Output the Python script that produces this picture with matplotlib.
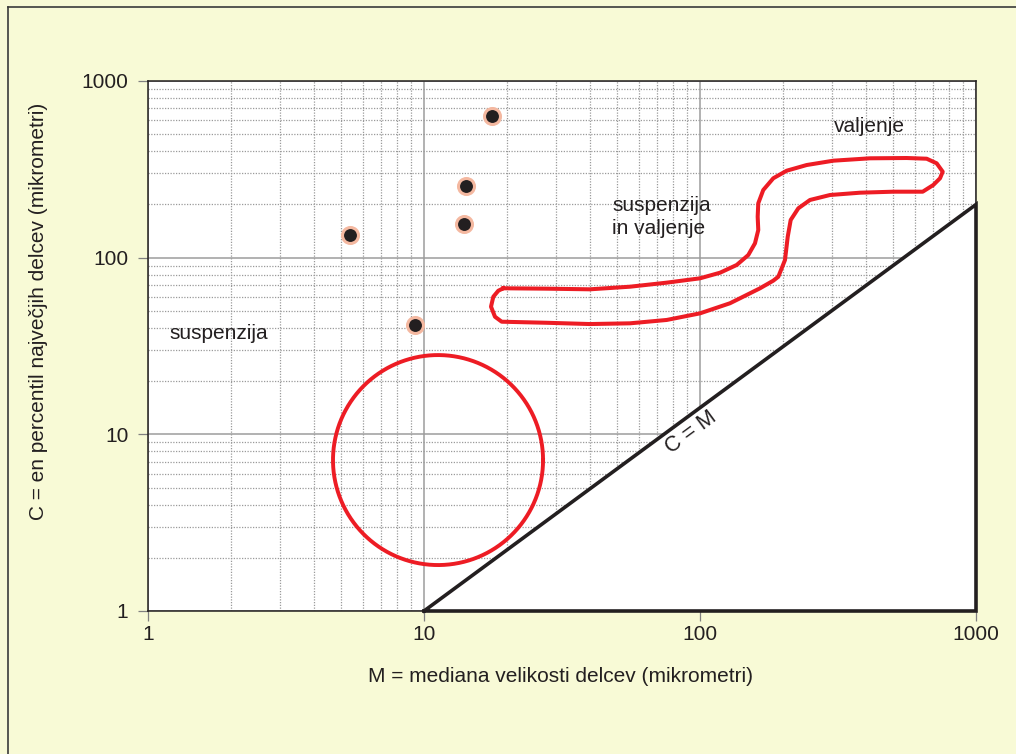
import numpy as np
import matplotlib
matplotlib.use('Agg')
import matplotlib.pyplot as plt
from matplotlib.patches import Polygon
from matplotlib.lines import Line2D

plt.rcParams['font.family'] = ['Liberation Sans', 'DejaVu Sans']

# ---- data ----
ticks = [1, 10, 100, 1000]
tick_labels = ["1", "10", "100", "1000"]

# sample points (M, C) in micrometres
points_M = [17.6, 14.2, 14.0, 5.4, 9.3]
points_C = [634, 254, 155, 134, 41.6]

# C = M limiting triangle (M, C)
tri_M = [10, 1000, 1000]
tri_C = [1, 1, 200]

# circular field (extents in M and C)
circle_M = [4.68, 27.0]
circle_C = [1.82, 28.1]

# "suspenzija in valjenje" field outline (M, C)
blob_M = [19.38, 27.84, 39.94, 55.78, 75.74, 100, 118.2, 135.8, 149.6, 158.2, 162.6, 161.8,
          162.6, 169.5, 184.3, 206.1, 243.5, 304.1, 412.9, 561.0, 662.7, 720.3, 757.5, 740.7,
          700.2, 641.1, 501.6, 379.9, 295.8, 250.3, 227.1, 213.1, 207.9, 203.2, 192.2, 184.3,
          165.0, 139.6, 128.4, 100, 75.74, 55.78, 39.94, 27.84, 19.12, 18.08, 17.49, 17.83, 18.59]
blob_C = [67.1, 66.75, 66.2, 68.5, 72.2, 76.4, 82.2, 90.9, 103.5, 120.6, 143.4, 170.6,
          203.1, 241.5, 281.4, 310.6, 334.5, 353.9, 365.1, 366.5, 363.2, 342.0, 306.6, 281.4,
          257.8, 236.3, 236.3, 233.2, 226.3, 212.1, 190.3, 163.4, 131.4, 97.0, 78.0, 74.1,
          67.1, 58.9, 55.2, 48.4, 44.4, 42.5, 42.1, 42.8, 43.4, 46.3, 52.8, 60.1, 65.0]

# ---- figure ----
W, H = 1016, 754
bg = '#F8FAD6'
ink = '#231F20'
red = '#ED1C24'
fig = plt.figure(figsize=(W / 100, H / 100), dpi=100, facecolor=bg)

# outer frame lines (left and top)
fig.add_artist(Line2D([8 / W, 8 / W], [0, 1 - 7 / H], transform=fig.transFigure, color='#3a3a3a', lw=1.2))
fig.add_artist(Line2D([8 / W, 1], [1 - 7 / H, 1 - 7 / H], transform=fig.transFigure, color='#3a3a3a', lw=1.2))

ax = fig.add_axes([148 / W, 1 - 611 / H, (976 - 148) / W, (611 - 81) / H])
ax.set_facecolor('white')
ax.set_xscale('log')
ax.set_yscale('log')
ax.set_xlim(1, 1000)
ax.set_ylim(1, 1000)

ax.set_axisbelow(True)
ax.grid(which='major', color='#9C9C9C', lw=1.1, ls='-')
ax.grid(which='minor', color='#9A9A9A', lw=0.9, ls=(0, (1, 1.2)))

ax.set_xticks(ticks)
ax.set_xticklabels(tick_labels)
ax.set_yticks(ticks)
ax.set_yticklabels(tick_labels)
ax.tick_params(which='major', length=7.2, width=0.9, color='#808080', labelsize=15,
               labelcolor=ink)
ax.tick_params(axis='y', pad=7)
ax.tick_params(axis='x', pad=3)
ax.tick_params(which='minor', length=0)
ax.xaxis.set_minor_formatter(plt.NullFormatter())
ax.yaxis.set_minor_formatter(plt.NullFormatter())
for s in ax.spines.values():
    s.set_color(ink)
    s.set_linewidth(1.1)

# white triangle below C = M
tri = Polygon(list(zip(tri_M, tri_C)), closed=True, facecolor='white', edgecolor='none', zorder=1.5)
ax.add_patch(tri)
ax.plot(tri_M + [tri_M[0]], tri_C + [tri_C[0]], color=ink, lw=2.6, zorder=3,
        clip_on=False, solid_joinstyle='miter')

# circle field (drawn as ellipse in log space)
t = np.linspace(0, 2 * np.pi, 400)
lcx, lrx = np.mean(np.log10(circle_M)), np.diff(np.log10(circle_M))[0] / 2
lcy, lry = np.mean(np.log10(circle_C)), np.diff(np.log10(circle_C))[0] / 2
ax.plot(10 ** (lcx + lrx * np.cos(t)), 10 ** (lcy + lry * np.sin(t)), color=red, lw=2.8, zorder=4)

# blob field
ax.plot(blob_M + [blob_M[0]], blob_C + [blob_C[0]], color=red, lw=2.9, zorder=4,
        solid_joinstyle='round')

# points
ax.plot(points_M, points_C, 'o', ms=11.5, mfc=ink, mec='#F4B8A0', mew=2.2, zorder=5)

# texts
ax.text(1.2, 37, 'suspenzija', fontsize=15, color=ink, va='center', ha='left')
ax.text(48, 170, 'suspenzija\nin valjenje', fontsize=15, color=ink, va='center', ha='left',
        linespacing=1.22)
ax.text(305, 550, 'valjenje', fontsize=15, color=ink, va='center', ha='left')
fig.text(691 / W, 1 - 432 / H, 'C = M', fontsize=15.5, color=ink, rotation=36.3,
         ha='center', va='center', rotation_mode='anchor')

fig.text(560 / W, 1 - 677 / H, 'M = mediana velikosti delcev (mikrometri)', fontsize=15,
         color=ink, ha='center', va='center')
fig.text(39 / W, 1 - 311 / H, 'C = en percentil največjih delcev (mikrometri)', fontsize=15,
         color=ink, ha='center', va='center', rotation=90)

fig.savefig('out.png', dpi=100, facecolor=bg)
